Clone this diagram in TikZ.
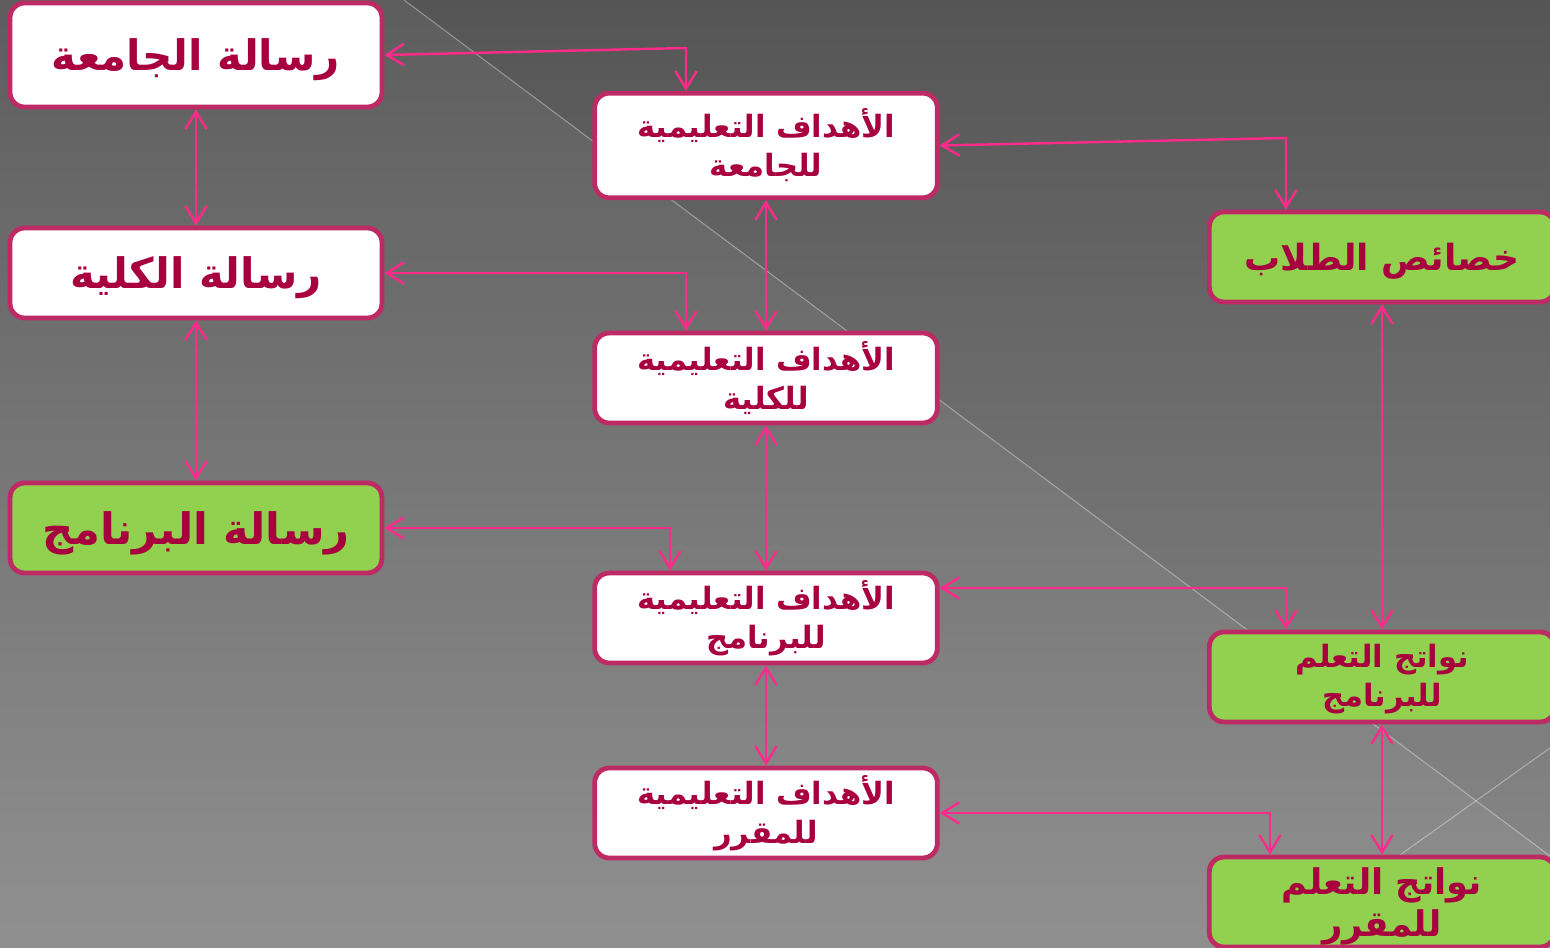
\documentclass[tikz,border=0pt]{standalone}
\usepackage{fontspec}
\usetikzlibrary{arrows.meta,calc}
\TeXXeTstate=1
\newfontfamily\arabicfont[Script=Arabic]{DejaVu Sans}
\definecolor{bgtop}{HTML}{555555}
\definecolor{bgbot}{HTML}{8A8A8A}
\definecolor{bordc}{HTML}{BE2A64}
\definecolor{txtc}{HTML}{A8003F}
\definecolor{arrc}{HTML}{FF2A8A}
\definecolor{grn}{HTML}{92D050}
\tikzset{
  box/.style={draw=bordc, line width=3.6pt, rounded corners=11pt, fill=white,
    text=txtc, align=center, font=\arabicfont\bfseries, inner sep=0pt},
  wbox/.style={box, minimum width=279pt, minimum height=67.5pt, text depth=0pt},
  mbox/.style={box, minimum width=257pt, minimum height=67.5pt},
  gbox/.style={box, fill=grn, minimum width=259pt, minimum height=67.5pt},
  conn/.style={draw=arrc, line width=1.8pt,
    {Straight Barb[length=13pt,width=16pt,line width=1.8pt]}-{Straight Barb[length=13pt,width=16pt,line width=1.8pt]}},
  bgline/.style={draw=white, opacity=0.35, line width=0.8pt}
}
\newcommand{\ar}[1]{\beginR #1\endR}
\begin{document}
\begin{tikzpicture}[x=0.75pt,y=-0.75pt]
\useasboundingbox (0,0) rectangle (1550,948);
\clip (0,0) rectangle (1550,948);
% background
\shade[top color=bgtop, bottom color=bgbot] (0,0) rectangle (1550,948);
\fill[white, opacity=0.05] (0,0) -- (404,0) -- (1550,856) -- (1550,948) -- (0,948) -- cycle;
\draw[bgline] (404,0) -- (1550,856);
\draw[bgline] (1550,748) -- (1400,855);
% left column
\node[wbox, minimum height=78pt, font=\arabicfont\bfseries\fontsize{31.5pt}{36pt}\selectfont] (A) at (196,55) {\ar{رسالة الجامعة}};
\node[wbox, font=\arabicfont\bfseries\fontsize{31.5pt}{36pt}\selectfont] (B) at (196,273) {\ar{رسالة الكلية}};
\node[wbox, fill=grn, font=\arabicfont\bfseries\fontsize{32.5pt}{37pt}\selectfont] (C) at (196,528) {\ar{رسالة البرنامج}};
% middle column
\node[mbox, minimum height=78.5pt, font=\arabicfont\bfseries\fontsize{23pt}{29pt}\selectfont] (D) at (766,145.5) {\ar{الأهداف التعليمية}\\\ar{للجامعة}};
\node[mbox, font=\arabicfont\bfseries\fontsize{23pt}{29pt}\selectfont] (E) at (766,378) {\ar{الأهداف التعليمية}\\\ar{للكلية}};
\node[mbox, font=\arabicfont\bfseries\fontsize{23pt}{29pt}\selectfont] (F) at (766,618) {\ar{الأهداف التعليمية}\\\ar{للبرنامج}};
\node[mbox, font=\arabicfont\bfseries\fontsize{23pt}{29pt}\selectfont] (G) at (766,813) {\ar{الأهداف التعليمية}\\\ar{للمقرر}};
% right column
\node[gbox, text depth=0pt, font=\arabicfont\bfseries\fontsize{27pt}{32pt}\selectfont] (H) at (1382,257) {\ar{خصائص الطلاب}};
\node[gbox, text depth=2pt, font=\arabicfont\bfseries\fontsize{23pt}{29.5pt}\selectfont] (I) at (1382,677) {\ar{نواتج التعلم}\\\ar{للبرنامج}};
\node[gbox, text depth=0pt, font=\arabicfont\bfseries\fontsize{26.5pt}{31pt}\selectfont] (J) at (1382,902) {\ar{نواتج التعلم}\\\ar{للمقرر}};
% corner coordinates
\coordinate (k1) at (686,48);
\coordinate (k2) at (686,273);
\coordinate (k3) at (670,528);
\coordinate (k4) at (1286,138);
\coordinate (k5) at (1286,588);
\coordinate (k6) at (1270,813);
% connectors
\draw[conn] (A.east) -- (k1) -- (k1 |- D.north);
\draw[conn] (A.south) -- (B.north);
\draw[conn] (B.east) -- (k2) -- (k2 |- E.north);
\draw[conn] (B.south) -- (C.north);
\draw[conn] (C.east) -- (k3) -- (k3 |- F.north);
\draw[conn] (D.south) -- (E.north);
\draw[conn] (E.south) -- (F.north);
\draw[conn] (F.south) -- (G.north);
\draw[conn] (D.east) -- (k4) -- (k4 |- H.north);
\draw[conn] (H.south) -- (I.north);
\draw[conn] ([yshift=22.5pt]F.east) -- (k5) -- (k5 |- I.north);
\draw[conn] (I.south) -- (J.north);
\draw[conn] (G.east) -- (k6) -- (k6 |- J.north);
\end{tikzpicture}
\end{document}
